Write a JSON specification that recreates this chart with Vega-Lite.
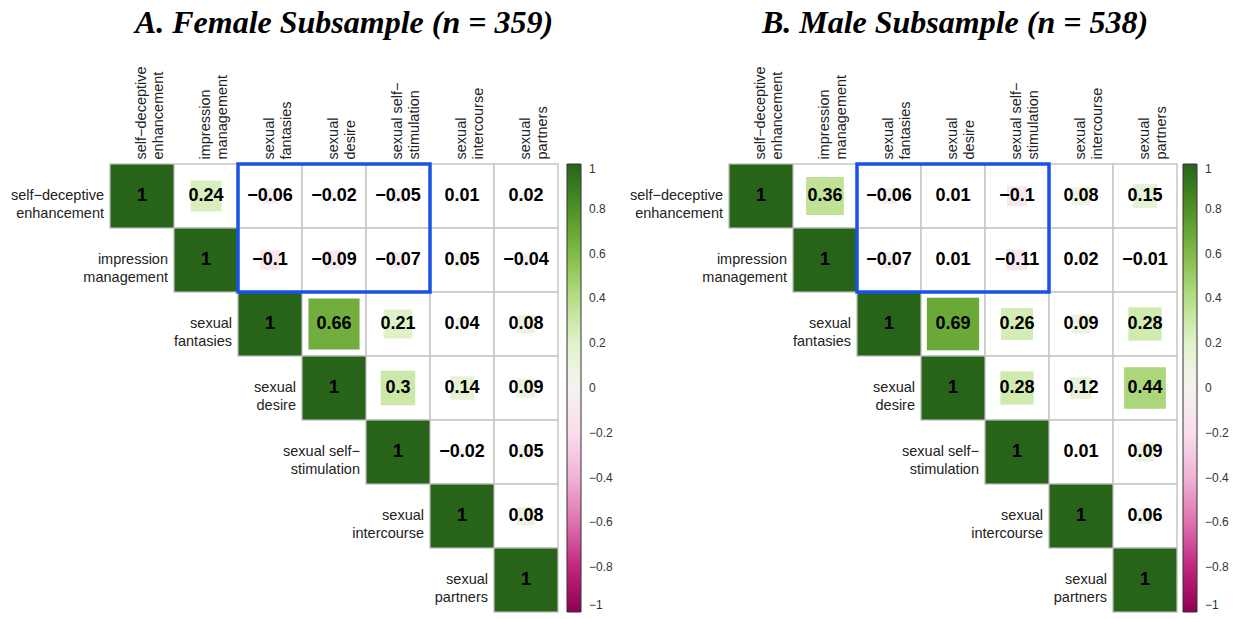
{
  "$schema": "https://vega.github.io/schema/vega-lite/v6.json",
  "padding": {"left": 10, "top": 6, "right": 5, "bottom": 5},
  "background": "white",
  "config": {"view": {"stroke": null}, "font": "Liberation Sans"},
  "datasets": {
    "female": [
      {"row": "self−deceptive|enhancement", "col": "self−deceptive|enhancement", "r": 1},
      {"row": "self−deceptive|enhancement", "col": "impression|management", "r": 0.24},
      {"row": "self−deceptive|enhancement", "col": "sexual|fantasies", "r": -0.06},
      {"row": "self−deceptive|enhancement", "col": "sexual|desire", "r": -0.02},
      {"row": "self−deceptive|enhancement", "col": "sexual self−|stimulation", "r": -0.05},
      {"row": "self−deceptive|enhancement", "col": "sexual|intercourse", "r": 0.01},
      {"row": "self−deceptive|enhancement", "col": "sexual|partners", "r": 0.02},
      {"row": "impression|management", "col": "impression|management", "r": 1},
      {"row": "impression|management", "col": "sexual|fantasies", "r": -0.1},
      {"row": "impression|management", "col": "sexual|desire", "r": -0.09},
      {"row": "impression|management", "col": "sexual self−|stimulation", "r": -0.07},
      {"row": "impression|management", "col": "sexual|intercourse", "r": 0.05},
      {"row": "impression|management", "col": "sexual|partners", "r": -0.04},
      {"row": "sexual|fantasies", "col": "sexual|fantasies", "r": 1},
      {"row": "sexual|fantasies", "col": "sexual|desire", "r": 0.66},
      {"row": "sexual|fantasies", "col": "sexual self−|stimulation", "r": 0.21},
      {"row": "sexual|fantasies", "col": "sexual|intercourse", "r": 0.04},
      {"row": "sexual|fantasies", "col": "sexual|partners", "r": 0.08},
      {"row": "sexual|desire", "col": "sexual|desire", "r": 1},
      {"row": "sexual|desire", "col": "sexual self−|stimulation", "r": 0.3},
      {"row": "sexual|desire", "col": "sexual|intercourse", "r": 0.14},
      {"row": "sexual|desire", "col": "sexual|partners", "r": 0.09},
      {"row": "sexual self−|stimulation", "col": "sexual self−|stimulation", "r": 1},
      {"row": "sexual self−|stimulation", "col": "sexual|intercourse", "r": -0.02},
      {"row": "sexual self−|stimulation", "col": "sexual|partners", "r": 0.05},
      {"row": "sexual|intercourse", "col": "sexual|intercourse", "r": 1},
      {"row": "sexual|intercourse", "col": "sexual|partners", "r": 0.08},
      {"row": "sexual|partners", "col": "sexual|partners", "r": 1}
    ],
    "male": [
      {"row": "self−deceptive|enhancement", "col": "self−deceptive|enhancement", "r": 1},
      {"row": "self−deceptive|enhancement", "col": "impression|management", "r": 0.36},
      {"row": "self−deceptive|enhancement", "col": "sexual|fantasies", "r": -0.06},
      {"row": "self−deceptive|enhancement", "col": "sexual|desire", "r": 0.01},
      {"row": "self−deceptive|enhancement", "col": "sexual self−|stimulation", "r": -0.1},
      {"row": "self−deceptive|enhancement", "col": "sexual|intercourse", "r": 0.08},
      {"row": "self−deceptive|enhancement", "col": "sexual|partners", "r": 0.15},
      {"row": "impression|management", "col": "impression|management", "r": 1},
      {"row": "impression|management", "col": "sexual|fantasies", "r": -0.07},
      {"row": "impression|management", "col": "sexual|desire", "r": 0.01},
      {"row": "impression|management", "col": "sexual self−|stimulation", "r": -0.11},
      {"row": "impression|management", "col": "sexual|intercourse", "r": 0.02},
      {"row": "impression|management", "col": "sexual|partners", "r": -0.01},
      {"row": "sexual|fantasies", "col": "sexual|fantasies", "r": 1},
      {"row": "sexual|fantasies", "col": "sexual|desire", "r": 0.69},
      {"row": "sexual|fantasies", "col": "sexual self−|stimulation", "r": 0.26},
      {"row": "sexual|fantasies", "col": "sexual|intercourse", "r": 0.09},
      {"row": "sexual|fantasies", "col": "sexual|partners", "r": 0.28},
      {"row": "sexual|desire", "col": "sexual|desire", "r": 1},
      {"row": "sexual|desire", "col": "sexual self−|stimulation", "r": 0.28},
      {"row": "sexual|desire", "col": "sexual|intercourse", "r": 0.12},
      {"row": "sexual|desire", "col": "sexual|partners", "r": 0.44},
      {"row": "sexual self−|stimulation", "col": "sexual self−|stimulation", "r": 1},
      {"row": "sexual self−|stimulation", "col": "sexual|intercourse", "r": 0.01},
      {"row": "sexual self−|stimulation", "col": "sexual|partners", "r": 0.09},
      {"row": "sexual|intercourse", "col": "sexual|intercourse", "r": 1},
      {"row": "sexual|intercourse", "col": "sexual|partners", "r": 0.06},
      {"row": "sexual|partners", "col": "sexual|partners", "r": 1}
    ],
    "box": [
      {"c1": "sexual|fantasies", "c2": "sexual self−|stimulation", "r1": "self−deceptive|enhancement", "r2": "impression|management"}
    ]
  },
  "bounds": "flush",
  "spacing": 171,
  "resolve": {"scale": {"color": "independent", "size": "independent"}, "legend": {"color": "independent"}},
  "hconcat": [
    {
      "title": {"text": "A. Female Subsample (n = 359)", "font": "Liberation Serif", "fontSize": 32, "fontStyle": "italic", "fontWeight": "bold", "color": "black", "anchor": "middle", "offset": 26, "dx": 10},
      "width": 448,
      "height": 448,
      "encoding": {
        "x": {"field": "col", "type": "nominal", "scale": {"domain": ["self−deceptive|enhancement", "impression|management", "sexual|fantasies", "sexual|desire", "sexual self−|stimulation", "sexual|intercourse", "sexual|partners"], "paddingInner": 0, "paddingOuter": 0}, "axis": {"orient": "top", "title": null, "domain": false, "ticks": false, "labelAngle": -90, "labelExpr": "split(datum.label, '|')", "labelFontSize": 14.5, "labelColor": "#222", "labelPadding": 5, "labelLineHeight": 17}},
        "y": {"field": "row", "type": "nominal", "scale": {"domain": ["self−deceptive|enhancement", "impression|management", "sexual|fantasies", "sexual|desire", "sexual self−|stimulation", "sexual|intercourse", "sexual|partners"], "paddingInner": 0, "paddingOuter": 0}, "axis": null}
      },
      "layer": [
        {"data": {"name": "female"}, "mark": {"type": "rect", "fill": "white", "stroke": "#c6c6c6", "strokeWidth": 1.5}},
        {"data": {"name": "female"}, "transform": [{"calculate": "abs(datum.r)", "as": "absr"}], "mark": {"type": "square", "opacity": 1, "strokeWidth": 0},
          "encoding": {
            "color": {"field": "r", "type": "quantitative", "scale": {"domain": [-1, 1], "scheme": "pinkyellowgreen"}, "legend": {"title": null, "orient": "right", "direction": "vertical", "gradientLength": 448, "gradientThickness": 14, "values": [1, 0.8, 0.6, 0.4, 0.2, 0, -0.2, -0.4, -0.6, -0.8, -1], "format": ".1~f", "labelFontSize": 12, "labelColor": "#333", "gradientStrokeColor": "#333", "gradientStrokeWidth": 1, "offset": 9, "labelOffset": 8}},
            "size": {"field": "absr", "type": "quantitative", "scale": {"domain": [0, 1], "range": [0, 3960]}, "legend": null}
          }},
        {"data": {"name": "female"}, "mark": {"type": "text", "fontSize": 18, "fontWeight": "bold", "color": "black"}, "encoding": {"text": {"field": "r", "type": "quantitative", "format": ".2~f"}}},
        {"data": {"name": "box"}, "mark": {"type": "rect", "filled": false, "stroke": "#1a52e6", "strokeWidth": 3.5},
          "encoding": {
            "x": {"field": "c1", "type": "nominal", "bandPosition": 0},
            "x2": {"field": "c2", "bandPosition": 1},
            "y": {"field": "r1", "type": "nominal", "bandPosition": 0},
            "y2": {"field": "r2", "bandPosition": 1}
          }},
        {"data": {"name": "female"}, "transform": [{"filter": "datum.row === datum.col"}], "mark": {"type": "text", "align": "right", "baseline": "middle", "dx": -38, "fontSize": 14.5, "lineBreak": "|", "lineHeight": 17.5, "color": "#222"}, "encoding": {"text": {"field": "row", "type": "nominal"}}}
      ]
    },
    {
      "title": {"text": "B. Male Subsample (n = 538)", "font": "Liberation Serif", "fontSize": 32, "fontStyle": "italic", "fontWeight": "bold", "color": "black", "anchor": "middle", "offset": 26, "dx": 2},
      "width": 448,
      "height": 448,
      "encoding": {
        "x": {"field": "col", "type": "nominal", "scale": {"domain": ["self−deceptive|enhancement", "impression|management", "sexual|fantasies", "sexual|desire", "sexual self−|stimulation", "sexual|intercourse", "sexual|partners"], "paddingInner": 0, "paddingOuter": 0}, "axis": {"orient": "top", "title": null, "domain": false, "ticks": false, "labelAngle": -90, "labelExpr": "split(datum.label, '|')", "labelFontSize": 14.5, "labelColor": "#222", "labelPadding": 5, "labelLineHeight": 17}},
        "y": {"field": "row", "type": "nominal", "scale": {"domain": ["self−deceptive|enhancement", "impression|management", "sexual|fantasies", "sexual|desire", "sexual self−|stimulation", "sexual|intercourse", "sexual|partners"], "paddingInner": 0, "paddingOuter": 0}, "axis": null}
      },
      "layer": [
        {"data": {"name": "male"}, "mark": {"type": "rect", "fill": "white", "stroke": "#c6c6c6", "strokeWidth": 1.5}},
        {"data": {"name": "male"}, "transform": [{"calculate": "abs(datum.r)", "as": "absr"}], "mark": {"type": "square", "opacity": 1, "strokeWidth": 0},
          "encoding": {
            "color": {"field": "r", "type": "quantitative", "scale": {"domain": [-1, 1], "scheme": "pinkyellowgreen"}, "legend": {"title": null, "orient": "right", "direction": "vertical", "gradientLength": 448, "gradientThickness": 14, "values": [1, 0.8, 0.6, 0.4, 0.2, 0, -0.2, -0.4, -0.6, -0.8, -1], "format": ".1~f", "labelFontSize": 12, "labelColor": "#333", "gradientStrokeColor": "#333", "gradientStrokeWidth": 1, "offset": 6, "labelOffset": 8}},
            "size": {"field": "absr", "type": "quantitative", "scale": {"domain": [0, 1], "range": [0, 3960]}, "legend": null}
          }},
        {"data": {"name": "male"}, "mark": {"type": "text", "fontSize": 18, "fontWeight": "bold", "color": "black"}, "encoding": {"text": {"field": "r", "type": "quantitative", "format": ".2~f"}}},
        {"data": {"name": "box"}, "mark": {"type": "rect", "filled": false, "stroke": "#1a52e6", "strokeWidth": 3.5},
          "encoding": {
            "x": {"field": "c1", "type": "nominal", "bandPosition": 0},
            "x2": {"field": "c2", "bandPosition": 1},
            "y": {"field": "r1", "type": "nominal", "bandPosition": 0},
            "y2": {"field": "r2", "bandPosition": 1}
          }},
        {"data": {"name": "male"}, "transform": [{"filter": "datum.row === datum.col"}], "mark": {"type": "text", "align": "right", "baseline": "middle", "dx": -38, "fontSize": 14.5, "lineBreak": "|", "lineHeight": 17.5, "color": "#222"}, "encoding": {"text": {"field": "row", "type": "nominal"}}}
      ]
    }
  ]
}
